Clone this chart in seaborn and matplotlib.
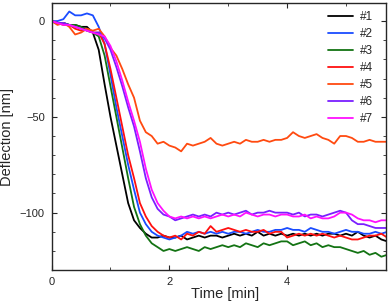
import numpy as np
import pandas as pd
import matplotlib.pyplot as plt
import seaborn as sns

# time grid [min]
time = np.round(np.arange(0, 5.75, 0.1), 2)

# deflection [nm]
defl_1 = [0, -1, -1, -2, -2, -3, -3, -6, -15, -33, -50, -65, -80, -95, -104, -108, -111, -113, -113, -112,
          -113, -113, -112, -114, -113, -112, -113, -112, -112, -113, -112, -111, -112, -111, -112, -110, -112, -111, -112, -111,
          -112, -111, -112, -111, -112, -111, -112, -111, -111, -112, -111, -112, -110, -112, -113, -112, -114, -115]
defl_2 = [0, 0, 1, 5, 3, 3, 4, 3, -3, -12, -28, -45, -60, -75, -88, -100, -106, -110, -112, -113,
          -114, -113, -112, -110, -111, -110, -111, -110, -111, -110, -111, -110, -110, -111, -110, -109, -110, -110, -109, -109,
          -108, -109, -109, -110, -108, -109, -110, -110, -111, -110, -109, -110, -110, -111, -111, -110, -111, -110]
defl_3 = [0, -1, -1, -2, -2, -3, -5, -6, -8, -18, -34, -50, -66, -82, -97, -106, -112, -116, -118, -120,
          -119, -120, -119, -118, -119, -120, -118, -119, -118, -117, -118, -117, -118, -116, -117, -118, -116, -117, -116, -115,
          -115, -117, -116, -115, -117, -116, -118, -117, -118, -118, -119, -120, -121, -120, -122, -121, -123, -122]
defl_4 = [0, -1, -2, -2, -4, -5, -4, -6, -6, -12, -25, -40, -55, -70, -82, -95, -102, -107, -110, -112,
          -113, -112, -114, -111, -112, -110, -111, -107, -110, -109, -108, -109, -110, -109, -110, -110, -109, -111, -110, -110,
          -113, -112, -111, -112, -111, -112, -111, -112, -113, -112, -113, -114, -114, -113, -112, -112, -111, -113]
defl_5 = [0, -2, -1, -3, -7, -6, -4, -5, -4, -8, -14, -18, -25, -33, -40, -52, -58, -60, -64, -63,
          -65, -66, -68, -64, -65, -64, -63, -61, -64, -65, -64, -63, -64, -62, -63, -63, -62, -63, -62, -62,
          -61, -58, -60, -61, -60, -59, -61, -62, -64, -60, -60, -61, -63, -63, -62, -63, -63, -63]
defl_6 = [0, -1, -1, -2, -3, -4, -5, -6, -6, -9, -15, -24, -34, -45, -55, -68, -82, -92, -98, -101,
          -102, -104, -103, -102, -101, -102, -101, -102, -100, -101, -100, -101, -100, -99, -101, -100, -100, -99, -100, -100,
          -100, -101, -100, -102, -101, -101, -102, -101, -100, -99, -100, -104, -106, -106, -107, -108, -108, -108]
defl_7 = [0, -1, -2, -2, -3, -4, -5, -6, -7, -8, -13, -21, -31, -42, -52, -63, -77, -88, -95, -99,
          -102, -103, -102, -103, -102, -103, -102, -103, -102, -101, -102, -101, -102, -100, -101, -102, -101, -101, -102, -101,
          -101, -102, -102, -101, -103, -102, -103, -103, -102, -100, -100, -101, -103, -104, -104, -105, -104, -104]

labels = ['#1', '#2', '#3', '#4', '#5', '#6', '#7']
colors = ['#000000', '#1a4cff', '#137313', '#ff1010', '#ff4a10', '#7a1fff', '#ff10ff']

series = [defl_1, defl_2, defl_3, defl_4, defl_5, defl_6, defl_7]
df = pd.concat([pd.DataFrame({'time': time, 'defl': s, 'run': lab})
                for s, lab in zip(series, labels)], ignore_index=True)

sns.set_style('ticks')
plt.rcParams['font.family'] = ['Liberation Sans', 'DejaVu Sans']

fig = plt.figure(figsize=(3.88, 3.08), dpi=100)
ax = fig.add_axes([0.133, 0.123, 0.862, 0.867])
sns.lineplot(data=df, x='time', y='defl', hue='run', palette=colors, linewidth=1.3, ax=ax)

ax.set_xlim(0, 5.68)
ax.set_ylim(-130, 9.4)
ax.set_xticks([0, 2, 4])
ax.set_xticks([1, 3, 5], minor=True)
ax.set_yticks([-100, -50, 0])
ax.set_yticks(np.arange(-120, 10, 10), minor=True)
ax.tick_params(which='both', direction='in', top=True, right=True, labelsize=8, pad=5)
ax.tick_params(which='major', length=3.6)
ax.tick_params(which='minor', length=2)
for sp in ax.spines.values():
    sp.set_linewidth(1.0)
ax.set_xlabel('Time [min]', fontsize=10.5)
ax.set_ylabel('Deflection [nm]', fontsize=10.5)
ax.xaxis.set_label_coords(0.52, -0.062)
ax.yaxis.set_label_coords(-0.112, 0.5)

ax.legend(title=None, frameon=False, loc='upper right', fontsize=8.5,
          handlelength=2.1, handletextpad=0.6, labelspacing=0.42,
          borderaxespad=0.3, bbox_to_anchor=(0.985, 1.0))

fig.savefig('out.png', dpi=100)
plt.close()
